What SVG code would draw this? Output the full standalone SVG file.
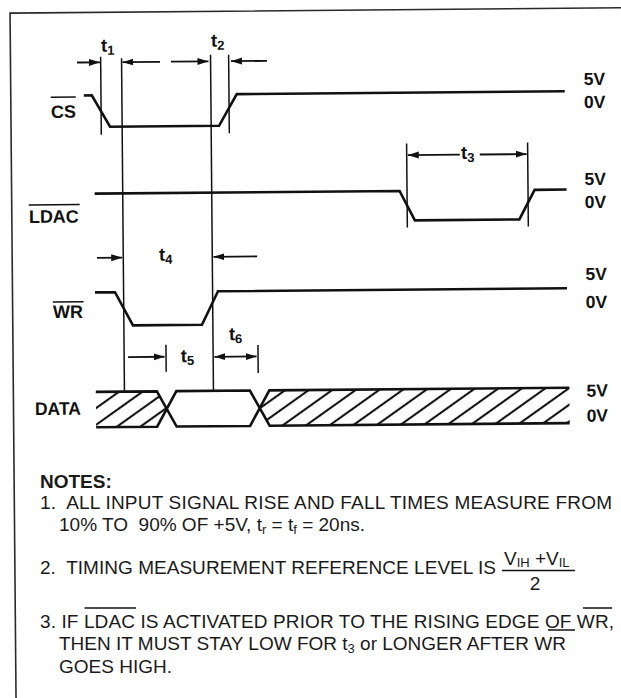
<svg xmlns="http://www.w3.org/2000/svg" width="621" height="698" viewBox="0 0 621 698">
  <style>
    .frame { fill:none; stroke:#2a2a2a; stroke-width:1.6; }
    .sig { fill:none; stroke:#111; stroke-width:2.6; stroke-linejoin:miter; }
    .vl { fill:none; stroke:#111; stroke-width:1.5; }
    .arr { fill:none; stroke:#111; stroke-width:1.8; marker-end:url(#ah); }
    .lbl { font-family:"Liberation Sans", Arial, Helvetica, sans-serif; font-weight:bold; font-size:18px; fill:#111; }
    .lv { font-family:"Liberation Sans", Arial, Helvetica, sans-serif; font-weight:bold; font-size:17.5px; fill:#111; }
    .tl { font-family:"Liberation Sans", Arial, Helvetica, sans-serif; font-weight:bold; font-size:18.5px; fill:#111; }
    .tl .s { font-size:13px; }
    .note { font-family:"Liberation Sans", Arial, Helvetica, sans-serif; font-size:19px; fill:#1a1a1a; }
    .note .s { font-size:13px; }
    .bar { fill:none; stroke:#111; stroke-width:1.5; }
  </style>
  <defs>
    <marker id="ah" markerUnits="userSpaceOnUse" markerWidth="11" markerHeight="8" refX="11" refY="4" orient="auto-start-reverse">
      <path d="M0,0.5 L11,4 L0,7.5 z" fill="#111"/>
    </marker>
    <pattern id="hatch" patternUnits="userSpaceOnUse" width="20" height="13.6" patternTransform="rotate(-35)">
      <line x1="-1" y1="6.8" x2="21" y2="6.8" stroke="#111" stroke-width="2.1"/>
    </pattern>
  </defs>
  <rect x="0" y="0" width="621" height="698" fill="#ffffff"/>
  <g transform="rotate(-0.5 310 350)">
    <g id="frame">
      <path class="frame" d="M13,720 L13,10.5 L660,10.5"/>
    </g>

    <g id="connectors">
      <!-- timing reference verticals -->
      <line class="vl" x1="103.2" y1="55" x2="103.2" y2="133"/>
      <line class="vl" x1="124.1" y1="56.5" x2="124.1" y2="390"/>
      <line class="vl" x1="213.1" y1="54" x2="213.1" y2="390"/>
      <line class="vl" x1="231.2" y1="54" x2="231.2" y2="132.5"/>
      <line class="vl" x1="408.4" y1="144.3" x2="408.4" y2="228.3"/>
      <line class="vl" x1="529.4" y1="144.3" x2="529.4" y2="228.3"/>
      <line class="vl" x1="166" y1="343.6" x2="166" y2="370.6"/>
      <line class="vl" x1="258" y1="344.5" x2="258" y2="372.5"/>
      <!-- t1 / t2 arrows -->
      <line class="arr" x1="79.5" y1="60.5" x2="102.5" y2="60.5"/>
      <line class="arr" x1="162.5" y1="60.5" x2="125" y2="60.5"/>
      <line class="arr" x1="173.5" y1="60.5" x2="211" y2="60.5"/>
      <line class="arr" x1="269.5" y1="60.5" x2="233.5" y2="60.5"/>
      <!-- t3 arrows -->
      <line class="arr" x1="461.5" y1="156" x2="409.5" y2="156"/>
      <line class="arr" x1="481.5" y1="156" x2="528.3" y2="156"/>
      <!-- t4 arrows -->
      <line class="arr" x1="97.8" y1="256" x2="123" y2="256"/>
      <line class="arr" x1="258" y1="256" x2="214.3" y2="256"/>
      <!-- t5 / t6 arrows -->
      <line class="arr" x1="128" y1="355.5" x2="164.5" y2="355.5"/>
      <line class="arr" x1="214.3" y1="356" x2="256.5" y2="356" marker-start="url(#ah)"/>
    </g>

    <g id="timing-labels">
      <text class="tl" x="103.6" y="50">t<tspan class="s" dy="3">1</tspan></text>
      <text class="tl" x="213.6" y="46">t<tspan class="s" dy="3">2</tspan></text>
      <text class="tl" x="462.6" y="160.4">t<tspan class="s" dy="3">3</tspan></text>
      <text class="tl" x="159.8" y="259.5">t<tspan class="s" dy="3">4</tspan></text>
      <text class="tl" x="180.7" y="361">t<tspan class="s" dy="3">5</tspan></text>
      <text class="tl" x="229" y="339.5">t<tspan class="s" dy="3">6</tspan></text>
    </g>

    <g id="cs">
      <text class="lbl" x="53" y="115.7">CS</text>
      <line class="bar" x1="53" y1="95" x2="78" y2="95"/>
      <polyline class="sig" points="86,93.5 94,93.5 112,125 221,125 239,93.5 567,93.5"/>
      <text class="lv" x="586" y="87.4">5V</text>
      <text class="lv" x="586" y="110.4">0V</text>
    </g>

    <g id="ldac">
      <text class="lbl" x="30" y="220.5">LDAC</text>
      <line class="bar" x1="30" y1="202.5" x2="81" y2="202.5"/>
      <polyline class="sig" points="96,191.8 401,191.8 416,221.3 520.5,221.3 536,191.8 568,191.8"/>
      <text class="lv" x="586" y="187.4">5V</text>
      <text class="lv" x="586" y="210.4">0V</text>
    </g>

    <g id="wr">
      <text class="lbl" x="53.3" y="315.8">WR</text>
      <line class="bar" x1="53.3" y1="299.8" x2="84" y2="299.8"/>
      <polyline class="sig" points="95.5,290.5 115.5,290.5 133.2,323.8 202.2,323.8 218.5,290.5 567.5,290.5"/>
      <text class="lv" x="586" y="282.4">5V</text>
      <text class="lv" x="586" y="310.4">0V</text>
    </g>

    <g id="data">
      <text class="lbl" x="34.4" y="412.6" textLength="46" lengthAdjust="spacingAndGlyphs">DATA</text>
      <polygon points="95.5,390 156.5,390 166.3,407.7 156.5,425.4 95.5,425.4" fill="url(#hatch)"/>
      <polygon points="259.3,407.7 269,390 569,390 569,425.4 269,425.4" fill="url(#hatch)"/>
      <path class="sig" d="M95.5,390 L156.5,390 L176,425.4 L249.5,425.4 L269,390 L569,390 M95.5,425.4 L156.5,425.4 L176,390 L249.5,390 L269,425.4 L569,425.4"/>
      <text class="lv" x="586" y="399.1">5V</text>
      <text class="lv" x="586" y="424.1">0V</text>
    </g>
  </g>

  <g id="notes">
    <text class="note" x="40" y="488" font-weight="bold" font-size="17">NOTES:</text>
    <text class="note" x="40" y="509" xml:space="preserve" textLength="572" lengthAdjust="spacing">1.  ALL INPUT SIGNAL RISE AND FALL TIMES MEASURE FROM</text>
    <text class="note" x="59" y="530.5" xml:space="preserve">10% TO  90% OF +5V, t<tspan class="s" dy="3">r</tspan><tspan dy="-3"> = t</tspan><tspan class="s" dy="3">f</tspan><tspan dy="-3"> = 20ns.</tspan></text>
    <text class="note" x="40" y="573.5" xml:space="preserve" textLength="456" lengthAdjust="spacing">2.  TIMING MEASUREMENT REFERENCE LEVEL IS</text>
    <text class="note" x="504" y="565" font-size="18">V<tspan class="s" dy="2">IH</tspan><tspan dy="-2" xml:space="preserve"> +V</tspan><tspan class="s" dy="2">IL</tspan></text>
    <line class="bar" x1="502" y1="570.5" x2="575" y2="570.5"/>
    <text class="note" x="535" y="589.5" text-anchor="middle">2</text>
    <text class="note" x="40" y="627.5" xml:space="preserve" textLength="574" lengthAdjust="spacing">3. IF LDAC IS ACTIVATED PRIOR TO THE RISING EDGE OF WR,</text>
    <line class="bar" x1="84.5" y1="608" x2="136" y2="608"/>
    <line class="bar" x1="548" y1="630" x2="575" y2="630"/>
    <line class="bar" x1="583" y1="608" x2="612" y2="608"/>
    <text class="note" x="59" y="650" xml:space="preserve">THEN IT MUST STAY LOW FOR t<tspan class="s" dy="3">3</tspan><tspan dy="-3"> or LONGER AFTER WR</tspan></text>
    <text class="note" x="59" y="672.5">GOES HIGH.</text>
  </g>
</svg>
